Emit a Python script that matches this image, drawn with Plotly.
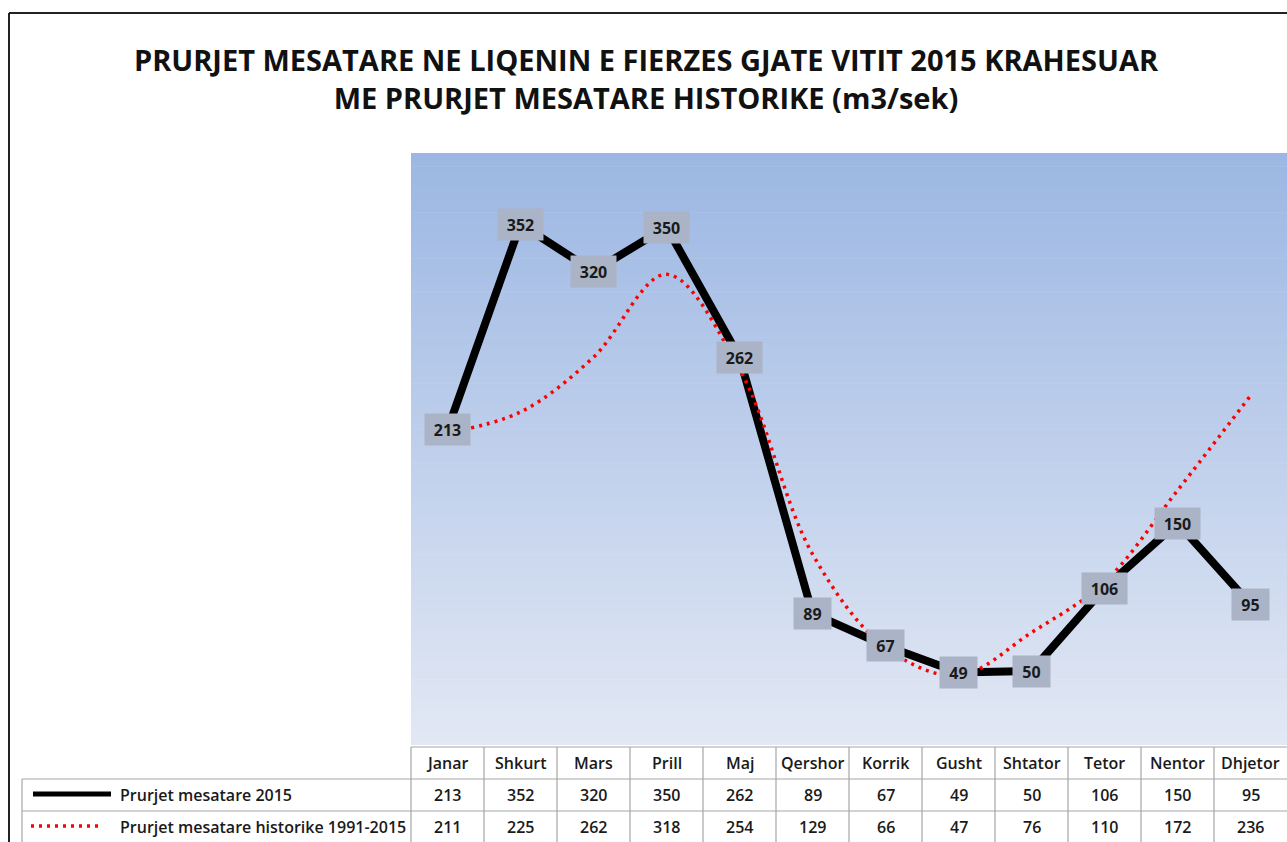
import plotly.graph_objects as go

months = ["Janar", "Shkurt", "Mars", "Prill", "Maj", "Qershor", "Korrik",
          "Gusht", "Shtator", "Tetor", "Nentor", "Dhjetor"]
flow_2015 = [213, 352, 320, 350, 262, 89, 67, 49, 50, 106, 150, 95]
flow_hist = [211, 225, 262, 318, 254, 129, 66, 47, 76, 110, 172, 236]
name_2015 = "Prurjet mesatare 2015"
name_hist = "Prurjet mesatare historike 1991-2015"
title_text = ("PRURJET MESATARE NE LIQENIN E FIERZES GJATE VITIT 2015 KRAHESUAR"
              "<br>ME PRURJET MESATARE HISTORIKE (m3/sek)")
y_max = 400

W, H = 1287, 842
plot_left, plot_right = 411, 1287
plot_top, plot_bottom = 153, 745
col_w = (plot_right - plot_left) / len(months)


def px(x):
    return x / W


def py(y):
    return 1 - y / H


FONT = "Open Sans"
TXT = "#1a1a1a"
xs = list(range(len(months)))

fig = go.Figure()
fig.add_trace(go.Scatter(
    x=xs, y=flow_2015, mode="lines", name=name_2015,
    line=dict(color="black", width=8), showlegend=False, hoverinfo="skip"))
fig.add_trace(go.Scatter(
    x=xs, y=flow_hist, mode="lines", name=name_hist,
    line=dict(color="#FF0000", width=3.5, dash="3px,5px", shape="spline", smoothing=1),
    showlegend=False, hoverinfo="skip"))

shapes = []
# gradient background for plot area
n = 90
top_c = (156, 183, 227)
bot_c = (226, 232, 244)
h = (plot_bottom - plot_top) / n
for i in range(n):
    t = i / (n - 1)
    c = tuple(round(top_c[k] + (bot_c[k] - top_c[k]) * t) for k in range(3))
    y0 = plot_top + i * h
    y1 = min(y0 + h + 0.6, plot_bottom)
    shapes.append(dict(type="rect", xref="paper", yref="paper",
                       x0=px(plot_left), x1=1, y0=py(y1), y1=py(y0),
                       fillcolor="rgb(%d,%d,%d)" % c, line=dict(width=0), layer="below"))

# outer frame
shapes.append(dict(type="line", xref="paper", yref="paper", x0=px(9), x1=1, y0=py(13), y1=py(13),
                   line=dict(color="#222222", width=2)))
shapes.append(dict(type="line", xref="paper", yref="paper", x0=px(9), x1=px(9), y0=py(13), y1=0,
                   line=dict(color="#222222", width=2)))

# table grid
gc = "#A6A6A6"
row_lines = [747, 779, 811]
for i, yl in enumerate(row_lines):
    x0 = plot_left if i == 0 else 22
    shapes.append(dict(type="line", xref="paper", yref="paper", x0=px(x0), x1=1,
                       y0=py(yl), y1=py(yl), line=dict(color=gc, width=1.2)))
for k in range(len(months)):
    xv = plot_left + k * col_w
    shapes.append(dict(type="line", xref="paper", yref="paper", x0=px(xv), x1=px(xv),
                       y0=py(747), y1=0, line=dict(color=gc, width=1.2)))
shapes.append(dict(type="line", xref="paper", yref="paper", x0=px(22), x1=px(22),
                   y0=py(779), y1=0, line=dict(color=gc, width=1.2)))
# legend keys
shapes.append(dict(type="line", xref="paper", yref="paper", x0=px(33), x1=px(111),
                   y0=py(794), y1=py(794), line=dict(color="black", width=5)))
shapes.append(dict(type="line", xref="paper", yref="paper", x0=px(31), x1=px(101),
                   y0=py(826), y1=py(826), line=dict(color="#FF0000", width=3.5, dash="3px,5px")))

annotations = []
# data labels
for i, v in enumerate(flow_2015):
    annotations.append(dict(
        x=i, y=v, xref="x", yref="y", text="<b>%d</b>" % v, showarrow=False,
        xanchor="center", yanchor="middle",
        font=dict(family=FONT, size=16, color="#1a1a1a"),
        bgcolor="#AAB4C6", borderpad=4, width=37 if v >= 100 else 29, height=23))

# table text
TS = 16
tfont = dict(family=FONT, size=TS, color=TXT, weight=600)
for i, m in enumerate(months):
    cx = px(plot_left + (i + 0.5) * col_w)
    annotations.append(dict(x=cx, y=py(763), xref="paper", yref="paper", text=m,
                            xanchor="center", yanchor="middle", showarrow=False, font=tfont))
    annotations.append(dict(x=cx, y=py(795), xref="paper", yref="paper", text=str(flow_2015[i]),
                            xanchor="center", yanchor="middle", showarrow=False, font=tfont))
    annotations.append(dict(x=cx, y=py(827), xref="paper", yref="paper", text=str(flow_hist[i]),
                            xanchor="center", yanchor="middle", showarrow=False, font=tfont))
annotations.append(dict(x=px(118), y=py(795), xref="paper", yref="paper", text=name_2015,
                        xanchor="left", yanchor="middle", showarrow=False, font=tfont))
annotations.append(dict(x=px(118), y=py(827), xref="paper", yref="paper", text=name_hist,
                        xanchor="left", yanchor="middle", showarrow=False, font=tfont))

fig.update_layout(
    width=W, height=H,
    margin=dict(l=0, r=0, t=0, b=0),
    paper_bgcolor="white", plot_bgcolor="rgba(0,0,0,0)",
    title=dict(text="<b>" + title_text + "</b>", x=px(646), xanchor="center",
               y=py(71), yanchor="middle",
               font=dict(family=FONT, size=29, color="#111111")),
    xaxis=dict(domain=[px(plot_left), 1], range=[-0.5, len(months) - 0.5],
               showgrid=False, zeroline=False, showticklabels=False, ticks="", fixedrange=True),
    yaxis=dict(domain=[py(plot_bottom), py(plot_top)], range=[0, y_max],
               showgrid=False, zeroline=False, showticklabels=False, ticks="", fixedrange=True),
    shapes=shapes, annotations=annotations,
)

fig.write_html("out.html", config={"displayModeBar": False},
               post_script="document.body.style.margin='0';document.body.style.overflow='hidden';")
